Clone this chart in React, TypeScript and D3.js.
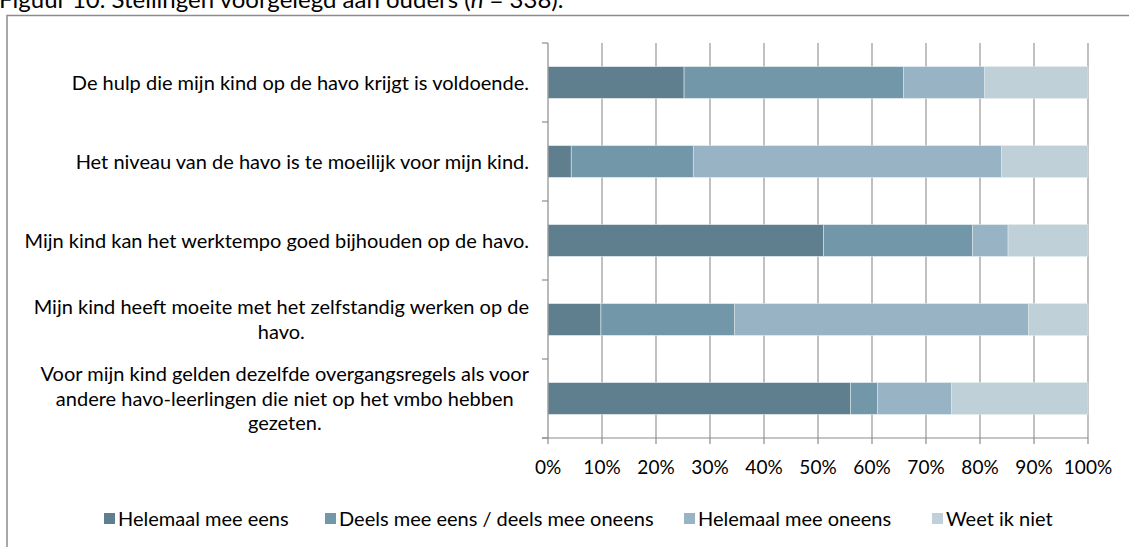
import * as d3 from "d3";
import { useEffect, useRef } from "react";

const statements = [
  ["De hulp die mijn kind op de havo krijgt is voldoende."],
  ["Het niveau van de havo is te moeilijk voor mijn kind."],
  ["Mijn kind kan het werktempo goed bijhouden op de havo."],
  ["Mijn kind heeft moeite met het zelfstandig werken op de", "havo."],
  [
    "Voor mijn kind gelden dezelfde overgangsregels als voor",
    "andere havo-leerlingen die niet op het vmbo hebben",
    "gezeten.",
  ],
];

const answers = [
  "Helemaal mee eens",
  "Deels mee eens / deels mee oneens",
  "Helemaal mee oneens",
  "Weet ik niet",
];

const helemaalEens = [25.2, 4.3, 51.0, 9.8, 56.0];
const deelsEens = [40.6, 22.6, 27.6, 24.7, 5.0];
const helemaalOneens = [15.0, 57.1, 6.6, 54.5, 13.7];
const weetNiet = [19.2, 16.0, 14.8, 11.0, 25.3];

const xTicks = [0, 10, 20, 30, 40, 50, 60, 70, 80, 90, 100];

const colors = ["#5f7e8e", "#7197a9", "#98b3c4", "#c0d0d8"];

const FONT = "Lato, 'Noto Sans', sans-serif";

export default function App() {
  const ref = useRef<SVGSVGElement>(null);

  useEffect(() => {
    if (!ref.current) return;
    document.body.style.margin = "0";

    const svg = d3.select(ref.current);
    svg.selectAll("*").remove();

    const width = 1129,
      height = 547;
    const plot = { left: 548, right: 1088, top: 43, bottom: 438 };

    svg.attr("width", width).attr("height", height);

    // Title (cut off at the top in the reference)
    const title = svg
      .append("text")
      .attr("x", -1)
      .attr("y", 8)
      .attr("font-family", FONT)
      .attr("font-size", "24px")
      .attr("fill", "#000");
    title.append("tspan").text("Figuur 10. Stellingen voorgelegd aan ouders (");
    title.append("tspan").attr("font-style", "italic").text("n");
    title.append("tspan").text(" = 338).");

    // Chart frame
    svg
      .append("path")
      .attr("d", `M7,${height + 5}V15.5H${width + 5}`)
      .attr("fill", "none")
      .attr("stroke", "#8c8c8c")
      .attr("stroke-width", 1.5);

    const x = d3
      .scaleLinear()
      .domain([0, 100])
      .range([plot.left, plot.right]);

    const y = d3
      .scaleBand<number>()
      .domain(d3.range(statements.length))
      .range([plot.top, plot.bottom])
      .paddingInner(0.6)
      .paddingOuter(0.3);

    const rows = statements.map((_, i) => ({
      i,
      values: [helemaalEens[i], deelsEens[i], helemaalOneens[i], weetNiet[i]],
    }));

    // Grid lines
    svg
      .append("g")
      .selectAll("line")
      .data(xTicks.slice(1))
      .enter()
      .append("line")
      .attr("x1", (d) => x(d))
      .attr("x2", (d) => x(d))
      .attr("y1", plot.top)
      .attr("y2", plot.bottom)
      .attr("stroke", "#979797")
      .attr("stroke-width", 1.2);

    // Stacked bars
    rows.forEach((row) => {
      let acc = 0;
      row.values.forEach((v, k) => {
        svg
          .append("rect")
          .attr("x", x(acc))
          .attr("y", y(row.i)!)
          .attr("width", x(acc + v) - x(acc))
          .attr("height", y.bandwidth())
          .attr("fill", colors[k])
          .attr("stroke", "#dde6ea")
          .attr("stroke-width", 0.6);
        acc += v;
      });
    });

    // Left axis with category boundary ticks
    const step = (plot.bottom - plot.top) / statements.length;
    const g = svg.append("g").attr("stroke", "#8c8c8c").attr("stroke-width", 1.2);
    g.append("line")
      .attr("x1", plot.left)
      .attr("x2", plot.left)
      .attr("y1", plot.top)
      .attr("y2", plot.bottom);
    d3.range(statements.length + 1).forEach((k) => {
      g.append("line")
        .attr("x1", plot.left - 6)
        .attr("x2", plot.left)
        .attr("y1", plot.top + k * step)
        .attr("y2", plot.top + k * step);
    });

    // Bottom axis
    g.append("line")
      .attr("x1", plot.left - 6)
      .attr("x2", plot.right)
      .attr("y1", plot.bottom)
      .attr("y2", plot.bottom);
    xTicks.forEach((t) => {
      g.append("line")
        .attr("x1", x(t))
        .attr("x2", x(t))
        .attr("y1", plot.bottom)
        .attr("y2", plot.bottom + 6);
    });

    svg
      .append("g")
      .selectAll("text")
      .data(xTicks)
      .enter()
      .append("text")
      .attr("x", (d) => x(d))
      .attr("y", 474)
      .attr("text-anchor", "middle")
      .attr("font-family", FONT)
      .attr("font-size", "19px")
      .attr("fill", "#000")
      .text((d) => `${d}%`);

    // Category labels: block right aligned, lines centered in block
    const lineH = 24.5;
    const labelRight = 529;
    statements.forEach((lines, i) => {
      const cy = y(i)! + y.bandwidth() / 2;
      const t = svg
        .append("text")
        .attr("font-family", FONT)
        .attr("font-size", "20px")
        .attr("fill", "#000")
        .attr("text-anchor", "middle");
      const spans = lines.map((line, j) =>
        t
          .append("tspan")
          .attr("y", cy + (j - (lines.length - 1) / 2) * lineH + 7)
          .text(line)
      );
      const widths = spans.map((s) => (s.node() as SVGTSpanElement).getComputedTextLength());
      const blockW = d3.max(widths) || 0;
      spans.forEach((s) => s.attr("x", labelRight - blockW / 2));
    });

    // Legend
    const legendX = [104, 325, 684, 932];
    const legend = svg.append("g");
    answers.forEach((a, k) => {
      legend
        .append("rect")
        .attr("x", legendX[k])
        .attr("y", 513)
        .attr("width", 11)
        .attr("height", 11)
        .attr("fill", colors[k]);
      legend
        .append("text")
        .attr("x", legendX[k] + 14)
        .attr("y", 526)
        .attr("font-family", FONT)
        .attr("font-size", "20px")
        .attr("fill", "#000")
        .text(a);
    });
  }, []);

  return <svg ref={ref} style={{ display: "block" }} />;
}
